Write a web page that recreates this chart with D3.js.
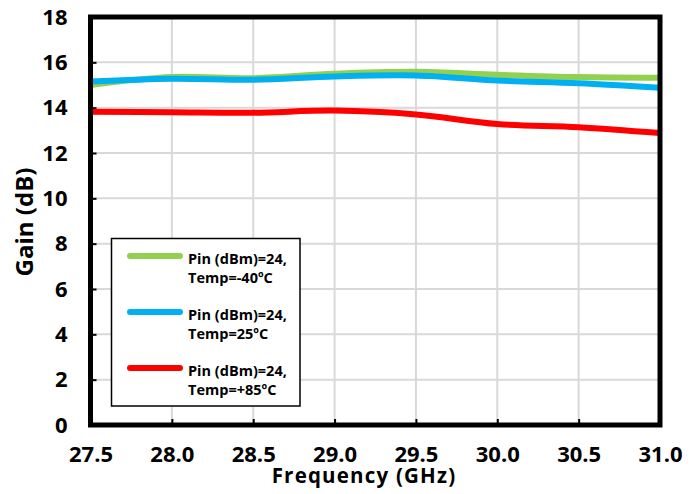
<!DOCTYPE html>
<html><head><meta charset="utf-8">
<script src="https://cdn.jsdelivr.net/npm/d3@7"></script>
<style>body{margin:0;background:#fff}svg{display:block}text{font-family:"Open Sans","Liberation Sans",sans-serif;font-weight:bold}</style>
</head><body>
<script>
const freq = [27.5, 28.0, 28.5, 29.0, 29.5, 30.0, 30.5, 31.0];
const gainM40 = [15.0, 15.35, 15.3, 15.5, 15.58, 15.45, 15.35, 15.32];
const gain25  = [15.15, 15.28, 15.23, 15.38, 15.42, 15.2, 15.08, 14.88];
const gain85  = [13.82, 13.8, 13.78, 13.87, 13.7, 13.28, 13.14, 12.88];
const seriesNames = ["Pin (dBm)=24,|Temp=-40ºC", "Pin (dBm)=24,|Temp=25ºC", "Pin (dBm)=24,|Temp=+85ºC"];
const seriesColors = ["#92d050", "#00b0f0", "#ff0000"];
const yTicks = [0, 2, 4, 6, 8, 10, 12, 14, 16, 18];
const xTicks = [27.5, 28.0, 28.5, 29.0, 29.5, 30.0, 30.5, 31.0];

const W = 699, H = 494;
const L = 90.5, R = 660, T = 17, B = 425;
const svg = d3.select("body").append("svg").attr("width", W).attr("height", H);
const x = d3.scaleLinear().domain([27.5, 31]).range([L, R]);
const y = d3.scaleLinear().domain([0, 18]).range([B, T]);

// gridlines
svg.append("g").selectAll("line").data(yTicks.slice(1, -1)).join("line")
  .attr("x1", L).attr("x2", R).attr("y1", d => y(d)).attr("y2", d => y(d))
  .attr("stroke", "#d9d9d9").attr("stroke-width", 2);
svg.append("g").selectAll("line").data(xTicks.slice(1, -1)).join("line")
  .attr("y1", T).attr("y2", B).attr("x1", d => x(d)).attr("x2", d => x(d))
  .attr("stroke", "#d9d9d9").attr("stroke-width", 2);

// axes
const ya = svg.append("g").attr("transform", `translate(${L},0)`)
  .call(d3.axisLeft(y).tickValues(yTicks).tickSize(-6).tickPadding(23).tickFormat(d3.format("d")));
const xa = svg.append("g").attr("transform", `translate(0,${B})`)
  .call(d3.axisBottom(x).tickValues(xTicks).tickSize(-6).tickPadding(21).tickFormat(d3.format(".1f")));
[ya, xa].forEach(a => {
  a.select(".domain").remove();
  a.selectAll(".tick line").attr("stroke", "#000").attr("stroke-width", 2);
  a.selectAll("text").attr("font-size", 22).attr("fill", "#000");
});

// lines
const data = [gainM40, gain25, gain85];
const line = d3.line().x((d, i) => x(freq[i])).y(d => y(d)).curve(d3.curveCatmullRom);
svg.append("g").selectAll("path").data(data).join("path")
  .attr("d", d => line(d)).attr("fill", "none")
  .attr("stroke", (d, i) => seriesColors[i]).attr("stroke-width", 6);

// frame
svg.append("rect").attr("x", L).attr("y", T).attr("width", R - L).attr("height", B - T)
  .attr("fill", "none").attr("stroke", "#000").attr("stroke-width", 5);

// legend
const lg = svg.append("g");
lg.append("rect").attr("x", 111.5).attr("y", 238.5).attr("width", 188.5).attr("height", 167.5)
  .attr("fill", "#fff").attr("stroke", "#000").attr("stroke-width", 1.5);
const ly = [256, 312, 368];
seriesNames.forEach((n, i) => {
  lg.append("line").attr("x1", 130).attr("x2", 180).attr("y1", ly[i]).attr("y2", ly[i])
    .attr("stroke", seriesColors[i]).attr("stroke-width", 6).attr("stroke-linecap", "round");
  const parts = n.split("|");
  parts.forEach((p, j) => {
    lg.append("text").attr("x", 188).attr("y", ly[i] + 8 + j * 19).attr("font-size", 14.5)
      .attr("fill", "#000").text(p);
  });
});

// axis titles
svg.append("text").attr("x", 364).attr("y", 483).attr("text-anchor", "middle")
  .attr("font-size", 20.5).attr("letter-spacing", 1.2).text("Frequency (GHz)");
svg.append("text").attr("transform", `translate(33,222) rotate(-90)`)
  .attr("text-anchor", "middle").attr("font-size", 24).text("Gain (dB)");
</script>
</body></html>
